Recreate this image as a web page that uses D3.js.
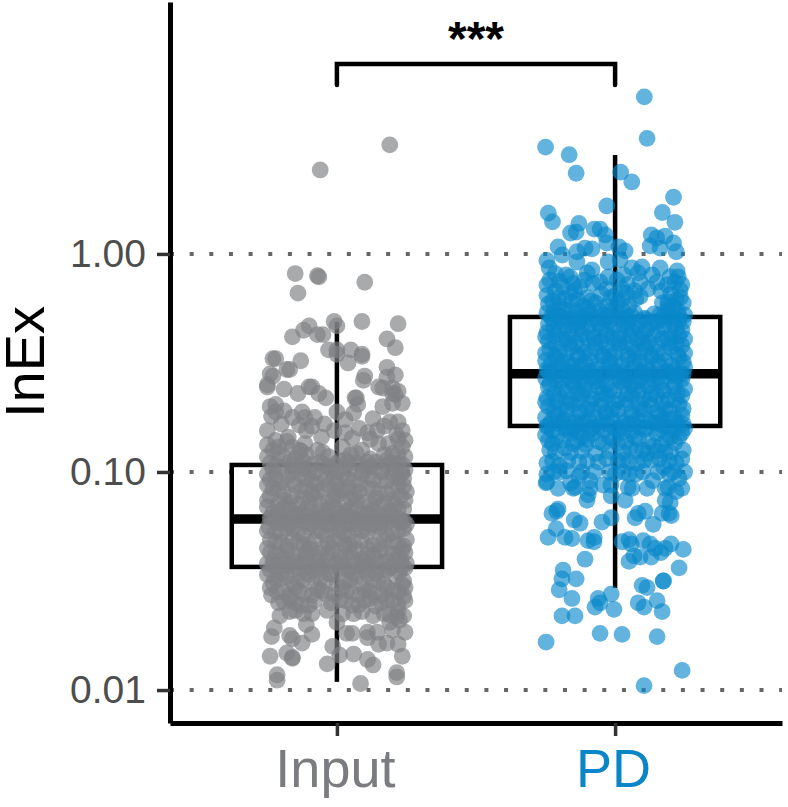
<!DOCTYPE html>
<html>
<head>
<meta charset="utf-8">
<script src="https://cdn.jsdelivr.net/npm/d3@7/dist/d3.min.js"></script>
<style>
  html, body { margin: 0; padding: 0; background: #fff; }
  svg { display: block; font-family: "Liberation Sans", Arial, sans-serif; }
</style>
</head>
<body>
<svg id="chart" width="788" height="807"></svg>
<script>
const categories = ["Input", "PD"];
const yTicks = [0.01, 0.1, 1];

// Box summaries: lower whisker, q1, median, q3, upper whisker (InEx).
const inputBox = [0.0109, 0.0367, 0.0608, 0.1077, 0.488];
const pdBox = [0.0294, 0.1626, 0.282, 0.514, 2.84];

// Each cell: [horizontal jitter in category steps, log10(InEx)].
const inputCells = [
[.19,.50],[-.06,.385],[-.15,-.09],[-.14,-.18],[-.07,-.10],[-.065,-.105],[.10,-.13],[-.01,-.31],[0,-.33],[.09,-.31],[.22,-.32],[-.10,-.33],[-.12,-.35],[-.16,-.38],[-.07,-.37],[-.05,-.37],[.18,-.39],[.21,-.43],[-.03,-.44],[0,-.44],[0,-.46],[.05,-.44],[.09,-.46],[.09,-.47],[.04,-.50],[-.23,-.48],[-.22,-.48],[-.13,-.49],[-.17,-.53],[-.18,-.53],[-.24,-.55],[-.23,-.56],[.18,-.52],[.10,-.56],[.21,-.555],[.18,-.565],[-.25,-.61],[-.19,-.62],[-.10,-.61],[-.09,-.61],[-.14,-.64],[-.065,-.64],[.15,-.61],[.165,-.615],[.22,-.63],[.20,-.64],[.07,-.66],[-.04,-.66],
[-.25,-.60],[-.24,-.70],[-.22,-.69],[-.22,-.725],[-.16,-.75],[-.125,-.725],[-.08,-.75],[0,-.725],[.065,-.66],[.075,-.69],[.06,-.73],[.03,-.76],[.095,-.58],[.2,-.615],[.21,-.645],[.235,-.685],[.165,-.70],[.2,-.685],[.19,-.77],[.22,-.77],[.235,-.81],[.145,-.81],[.11,-.82],[-.25,-.81],[-.175,-.84],[-.115,-.75],[-.11,-.81],[-.22,-.855],[.245,-.855],[.055,-.845],[-.25,-.875],[-.25,-.93],[-.21,-.885],[-.16,-.885],[-.115,-.87],[-.055,-.84],[-.01,-.81],[.02,-.885],[.09,-.90],[.15,-.87],[.2,-.915],[.245,-.93],[.235,-.885],
[-.19,-.93],[-.15,-.94],[-.11,-.92],[-.07,-.90],[-.03,-.93],[.01,-.95],[.05,-.92],[.12,-.94],[.17,-.92],
[-.24,-.96],[-.2,-.98],[-.14,-.97],[-.1,-.99],[-.05,-.97],[-.02,-.99],[.03,-.98],[.07,-.96],[.1,-.99],[.14,-.98],[.18,-.97],[.22,-.96],[.245,-.99],
[-.25,-1.01],[-.22,-1.03],[-.18,-1.02],[-.13,-1.01],[-.09,-1.04],[-.06,-1.01],[-.01,-1.03],[.02,-1.01],[.06,-1.04],[.11,-1.02],[.16,-1.04],[.2,-1.01],[.24,-1.03],
[-.25,-1.06],[-.21,-1.08],[-.15,-1.06],[-.11,-1.07],[-.07,-1.09],[-.03,-1.06],[.01,-1.08],[.04,-1.07],[.08,-1.09],[.13,-1.08],[.18,-1.1],[.22,-1.06],[.25,-1.09],
[-.24,-1.11],[-.19,-1.13],[-.16,-1.11],[-.12,-1.12],[-.08,-1.12],[-.03,-1.14],[0,-1.11],[.05,-1.12],[.1,-1.14],[.14,-1.12],[.2,-1.13],[.23,-1.11],
[-.25,-1.16],[-.21,-1.18],[-.17,-1.17],[-.13,-1.19],[-.1,-1.16],[-.05,-1.18],[-.01,-1.16],[.03,-1.18],[.07,-1.16],[.11,-1.19],[.15,-1.16],[.19,-1.18],[.24,-1.17],
[-.24,-1.21],[-.19,-1.23],[-.14,-1.22],[-.09,-1.24],[-.06,-1.21],[-.02,-1.24],[.02,-1.22],[.07,-1.24],[.1,-1.21],[.16,-1.23],[.21,-1.22],[.25,-1.24],
[-.25,-1.27],[-.2,-1.28],[-.16,-1.26],[-.12,-1.29],[-.07,-1.27],[-.04,-1.29],[.01,-1.27],[.04,-1.29],[.09,-1.27],[.13,-1.26],[.18,-1.29],[.22,-1.27],
[-.22,-1.32],[-.18,-1.34],[-.14,-1.32],[-.1,-1.33],[-.05,-1.35],[-.01,-1.32],[.03,-1.34],[.06,-1.32],[.11,-1.35],[.15,-1.33],[.2,-1.32],[.24,-1.34],
[-.24,-1.37],[-.2,-1.39],[-.16,-1.38],[-.11,-1.37],[-.08,-1.39],[-.03,-1.37],[.01,-1.39],[.05,-1.37],[.09,-1.4],[.13,-1.38],[.18,-1.37],[.22,-1.39],[.245,-1.37],
[-.25,-1.42],[-.21,-1.44],[-.17,-1.43],[-.13,-1.42],[-.09,-1.45],[-.05,-1.43],[0,-1.42],[.04,-1.45],[.08,-1.43],[.12,-1.42],[.16,-1.45],[.2,-1.43],[.25,-1.42],
[-.25,-1.47],[-.22,-1.49],[-.18,-1.48],[-.14,-1.5],[-.1,-1.47],[-.06,-1.49],[-.02,-1.47],[.03,-1.5],[.07,-1.48],[.11,-1.47],[.15,-1.5],[.21,-1.48],[.24,-1.5],
[-.24,-1.53],[-.19,-1.55],[-.15,-1.53],[-.12,-1.56],[-.07,-1.54],[-.04,-1.56],[.02,-1.53],[.05,-1.55],[.1,-1.54],[.13,-1.56],[.18,-1.53],[.22,-1.55],[.245,-1.53],
[-.21,-1.6],[-.17,-1.58],[-.13,-1.61],[-.08,-1.59],[-.02,-1.6],[.03,-1.59],[.08,-1.61],[.12,-1.58],[.16,-1.6],[.2,-1.59],
[-.12,-1.65],[-.17,-1.64],[.02,-1.65],[.09,-1.64],[.13,-1.66],[.17,-1.65],[.22,-1.64],[.24,-1.66],
[-.215,-1.955],[-.215,-1.93],[.085,-1.97],[.215,-1.94],[.215,-1.92],[-.035,-1.88],[-.24,-1.845],[-.18,-1.83],[-.16,-1.85],[-.16,-1.855],[.01,-1.84],[-.015,-1.80],[.06,-1.835],[.11,-1.86],[.13,-1.885],[.235,-1.845],[.22,-1.79],[.15,-1.79],[.18,-1.785],[-.235,-1.755],[-.225,-1.715],[-.17,-1.75],[-.16,-1.765],[-.125,-1.785],[-.09,-1.745],[-.205,-1.66],[-.11,-1.70],[0,-1.69],[.035,-1.74],[.055,-1.74],[.11,-1.735],[.11,-1.76],[.145,-1.735],[.19,-1.69],[.225,-1.68],[.245,-1.735],[.2,-1.725],[.245,-1.59],[-.035,-1.635],[-.15,-1.635],[-.09,-1.65],[-.235,-1.565],[.06,-1.65]
];

// Further Input cells through the crowded middle of the distribution.
const inputCellsCore = [
[-.21,-.915],[-.17,-.955],[-.13,-.905],[-.09,-.965],[-.05,-.91],[.03,-.945],[.07,-.915],[.11,-.955],[.18,-.945],[.22,-.92],
[-.23,-.99],[-.16,-1.0],[-.12,-.985],[-.08,-1.005],[-.03,-.975],[.0,-1.0],[.05,-.99],[.09,-1.01],[.12,-.975],[.16,-1.0],[.2,-.985],[.235,-1.005],
[-.24,-1.035],[-.2,-1.05],[-.16,-1.04],[-.11,-1.03],[-.075,-1.055],[-.04,-1.035],[.0,-1.05],[.04,-1.03],[.08,-1.055],[.13,-1.035],[.18,-1.04],[.22,-1.03],
[-.23,-1.075],[-.19,-1.095],[-.13,-1.085],[-.09,-1.1],[-.05,-1.08],[-.01,-1.1],[.02,-1.085],[.06,-1.105],[.11,-1.075],[.15,-1.1],[.2,-1.08],[.24,-1.065],
[-.25,-1.13],[-.21,-1.145],[-.17,-1.14],[-.14,-1.15],[-.1,-1.135],[-.06,-1.15],[-.015,-1.13],[.03,-1.145],[.07,-1.13],[.12,-1.15],[.17,-1.14],[.21,-1.15],[.245,-1.13],
[-.23,-1.185],[-.19,-1.165],[-.15,-1.195],[-.115,-1.175],[-.07,-1.195],[-.03,-1.17],[.01,-1.19],[.05,-1.17],[.09,-1.195],[.13,-1.175],[.17,-1.195],[.22,-1.17],
[-.22,-1.215],[-.17,-1.24],[-.12,-1.225],[-.08,-1.215],[-.04,-1.235],[0,-1.215],[.04,-1.24],[.085,-1.22],[.12,-1.24],[.18,-1.215],[.23,-1.23],
[-.245,-1.25],[-.22,-1.275],[-.18,-1.26],[-.14,-1.28],[-.1,-1.255],[-.055,-1.275],[-.02,-1.255],[.025,-1.28],[.07,-1.26],[.11,-1.28],[.155,-1.255],[.2,-1.28],[.24,-1.26],
[-.24,-1.31],[-.2,-1.325],[-.16,-1.31],[-.12,-1.335],[-.08,-1.315],[-.03,-1.33],[.01,-1.31],[.045,-1.335],[.09,-1.315],[.13,-1.335],[.17,-1.31],[.22,-1.33],[.25,-1.31],
[-.25,-1.35],[-.22,-1.375],[-.18,-1.36],[-.135,-1.38],[-.095,-1.355],[-.06,-1.375],[-.015,-1.355],[.03,-1.38],[.07,-1.355],[.11,-1.38],[.155,-1.36],[.2,-1.375],[.235,-1.355],
[-.23,-1.41],[-.19,-1.4],[-.15,-1.415],[-.11,-1.395],[-.07,-1.415],[-.03,-1.4],[.02,-1.415],[.06,-1.4],[.1,-1.415],[.14,-1.4],[.18,-1.41],[.23,-1.4],
[-.24,-1.45],[-.2,-1.465],[-.155,-1.45],[-.115,-1.465],[-.07,-1.445],[-.03,-1.465],[.015,-1.445],[.055,-1.465],[.1,-1.45],[.14,-1.465],[.18,-1.45],[.225,-1.46],[.245,-1.44],
[-.23,-1.51],[-.2,-1.49],[-.16,-1.515],[-.12,-1.495],[-.08,-1.515],[-.04,-1.5],[0,-1.515],[.05,-1.495],[.09,-1.515],[.13,-1.495],[.17,-1.515],[.235,-1.515],
[-.215,-1.55],[-.17,-1.565],[-.135,-1.545],[-.09,-1.565],[-.055,-1.545],[-.01,-1.565],[.035,-1.545],[.08,-1.565],[.115,-1.545],[.16,-1.565],[.2,-1.545],[.24,-1.57],
[-.19,-1.595],[-.15,-1.6],[-.1,-1.61],[.01,-1.585],[.055,-1.61],[.1,-1.59],[.14,-1.615],[.18,-1.585],[.22,-1.61],[.215,-1.665],[.19,-1.655],
[-.235,-1.21],[-.205,-1.2],[-.175,-1.215],[-.145,-1.2],[-.105,-1.205],[-.065,-1.225],[-.03,-1.205],[.005,-1.235],[.035,-1.2],[.055,-1.21],[.1,-1.23],[.13,-1.205],[.15,-1.22],[.195,-1.205],[.225,-1.215],
[-.215,-1.235],[-.16,-1.23],[-.105,-1.235],[-.05,-1.22],[.02,-1.205],[.06,-1.225],[.14,-1.24],[.175,-1.235],[.24,-1.225],
[-.22,-.97],[-.16,-.965],[-.12,-.95],[-.06,-.955],[-.01,-.965],[.04,-.955],[.09,-.97],[.14,-.955],[.195,-.96],[.235,-.965],
[-.23,-1.43],[-.19,-1.425],[-.14,-1.44],[-.1,-1.43],[-.06,-1.44],[-.02,-1.43],[.025,-1.435],[.065,-1.425],[.11,-1.44],[.15,-1.425],[.19,-1.44],[.235,-1.43],
[-.235,-.745],[-.2,-.78],[-.19,-.72],[-.135,-.785],[-.09,-.79],[-.045,-.78],[.03,-.82],[.08,-.8],[.13,-.755],[.17,-.79],[.215,-.83],[-.23,-.9],[-.18,-.86],[-.135,-.9],[.12,-.85],[.185,-.87],[.22,-.85]
];

const pdCells = [
[.105,.72],[.115,.53],[-.25,.49],[-.165,.455],[-.14,.37],[.02,.375],[.06,.33],[.21,.26],[-.03,.22],[.17,.19],[.215,.145],[-.24,.187],[-.225,.147],[-.13,.14],[-.14,.10],[-.16,.096],[-.075,.114],[-.054,.114],[-.035,.087],[-.03,.05],[.13,.087],[.15,.073],[.18,.082],[.126,.037],[.21,.05],[.22,.01],[-.205,.032],[-.19,-.005],[-.108,.027],[-.083,.023],[-.137,.01],[.014,.032],[.036,.014],[.162,.027],
[-.245,-.03],[-.237,-.064],[-.137,-.037],[-.176,-.096],[-.162,-.105],[-.1,-.087],[-.083,-.073],[-.025,-.037],[.018,-.027],[.061,-.064],[.097,-.06],[.083,-.087],[.133,-.096],[.162,-.064],[.223,-.078],[.198,-.105],[.227,-.105],[-.245,-.142],[.119,-.16],[.187,-.142],[.007,-.12],[-.054,-.128],[-.126,-.151],[-.187,-.151],[.234,-.165],
[-.245,-.19],[-.205,-.2],[-.16,-.18],[-.1,-.2],[-.05,-.185],[0,-.19],[.04,-.18],[.09,-.195],[.2,-.185],[.235,-.2],
[-.24,-.23],[-.2,-.24],[-.155,-.22],[-.115,-.24],[-.07,-.225],[-.03,-.24],[.01,-.22],[.05,-.24],[.17,-.225],[.21,-.24],[.245,-.225],
[-.245,-.27],[-.21,-.28],[-.17,-.26],[-.13,-.285],[-.09,-.27],[-.04,-.28],[0,-.26],[.04,-.285],[.07,-.27],[.14,-.275],[.19,-.26],[.23,-.285],
[-.24,-.32],[-.19,-.31],[-.15,-.325],[-.11,-.3],[-.06,-.32],[-.02,-.31],[.03,-.325],[.09,-.31],[.13,-.32],[.17,-.305],[.21,-.325],[.245,-.31],
[-.245,-.36],[-.2,-.35],[-.16,-.37],[-.12,-.345],[-.08,-.365],[-.03,-.35],[.02,-.37],[.06,-.35],[.1,-.365],[.15,-.35],[.2,-.37],[.24,-.35],
[-.24,-.4],[-.19,-.39],[-.14,-.41],[-.1,-.385],[-.05,-.4],[-.01,-.385],[.04,-.41],[.08,-.39],[.12,-.405],[.17,-.39],[.22,-.41],[.25,-.39],
[-.235,-.44],[-.2,-.45],[-.16,-.43],[-.11,-.45],[-.07,-.435],[-.02,-.45],[.02,-.43],[.07,-.45],[.11,-.435],[.15,-.45],[.2,-.43],[.25,-.455],
[-.25,-.49],[-.21,-.48],[-.17,-.5],[-.13,-.475],[-.09,-.49],[-.04,-.47],[0,-.5],[.05,-.48],[.09,-.495],[.13,-.475],[.18,-.49],[.23,-.475],
[-.245,-.53],[-.2,-.52],[-.15,-.54],[-.12,-.515],[-.07,-.53],[-.02,-.515],[.03,-.54],[.07,-.52],[.12,-.535],[.16,-.515],[.21,-.535],[.25,-.52],
[-.25,-.57],[-.21,-.58],[-.17,-.56],[-.13,-.58],[-.09,-.565],[-.05,-.58],[0,-.56],[.04,-.58],[.1,-.565],[.14,-.58],[.19,-.56],[.24,-.575],
[-.24,-.61],[-.19,-.62],[-.15,-.6],[-.11,-.625],[-.06,-.61],[-.02,-.625],[.03,-.6],[.07,-.62],[.12,-.605],[.17,-.625],[.21,-.61],[.25,-.62],
[-.245,-.66],[-.2,-.65],[-.16,-.67],[-.12,-.645],[-.08,-.665],[-.03,-.65],[.01,-.67],[.06,-.65],[.1,-.665],[.15,-.65],[.19,-.67],[.24,-.65],
[-.24,-.7],[-.2,-.71],[-.15,-.69],[-.1,-.71],[-.05,-.695],[-.01,-.71],[.04,-.69],[.09,-.71],[.13,-.695],[.18,-.71],[.23,-.69],
[-.25,-.75],[-.21,-.74],[-.17,-.76],[-.13,-.735],[-.07,-.75],[-.03,-.735],[.02,-.76],[.06,-.74],[.11,-.755],[.16,-.735],[.2,-.755],[.24,-.74],
[-.245,-.79],[-.2,-.78],[-.15,-.8],[-.11,-.775],[-.06,-.79],[0,-.8],[.05,-.78],[.09,-.795],[.14,-.775],[.18,-.79],[.225,-.775],
[-.25,-.83],[-.21,-.84],[-.16,-.82],[-.12,-.84],[-.08,-.825],[-.02,-.84],[.03,-.82],[.07,-.84],[.15,-.825],[.2,-.84],[.24,-.82],
[-.225,-.87],[-.235,-.9],[-.18,-.89],[-.15,-.87],[-.105,-.875],[-.1,-.95],[-.03,-.94],[-.043,-.87],[.01,-.87],[.027,-.945],[.055,-.89],[.1,-.9],[.13,-.945],[.18,-.91],[.23,-.84],[.166,-.875],[.138,-.88],[-.2,-.97],[-.245,-.96],[.16,-.94],[.24,-.94],[.175,-.98],[.08,-.96],[.22,-.96],
[-.245,-1.01],[-.2,-1.0],[-.16,-1.05],[-.09,-1.04],[-.043,-1.06],[.0,-1.01],[.05,-1.01],[.1,-1.0],[.23,-1.03],[.25,-1.0],[.195,-1.01],[.135,-1.04],[-.12,-1.0],
[-.245,-1.045],[.24,-1.075],[-.205,-1.075],[-.15,-1.075],[-.09,-1.075],[-.015,-1.06],[.115,-1.075],[.18,-1.075],
[-.248,-1.05],[-.144,-1.07],[-.097,-1.105],[-.014,-1.11],[.047,-1.07],[.061,-1.075],[.191,-1.07],[.219,-1.09],[.036,-1.13],[-.101,-1.13],
[.18,-1.13],[.198,-1.14],[.194,-1.19],[.202,-1.2],[-.227,-1.19],[-.205,-1.17],[-.21,-1.18],[-.047,-1.23],[-.014,-1.21],[.072,-1.21],[.083,-1.19],[.108,-1.18],[.169,-1.19],[-.147,-1.22],[-.126,-1.235],[.137,-1.24],
[-.241,-1.3],[-.212,-1.26],[-.155,-1.305],[-.097,-1.315],[-.18,-1.3],[-.075,-1.3],[-.076,-1.32],[.058,-1.33],[.101,-1.315],[.18,-1.35],[.201,-1.33],[.05,-1.31],[.025,-1.32],[.126,-1.33],
[.09,-1.39],[.144,-1.35],[.165,-1.37],[.245,-1.355],[.068,-1.385],[.05,-1.41],[.13,-1.39],[.23,-1.44],[-.108,-1.4],[-.191,-1.49],[-.14,-1.49],[-.187,-1.45],[.173,-1.5],
[-.072,-1.62],[-.061,-1.58],[-.054,-1.6],[-.014,-1.56],[-.004,-1.63],[.083,-1.6],[.104,-1.62],[.151,-1.59],[.169,-1.64],[.174,-1.5],[.097,-1.52],[.115,-1.53],[-.201,-1.54],[-.155,-1.58],[-.191,-1.66],[-.144,-1.66],
[-.248,-1.78],[-.054,-1.74],[.025,-1.745],[.151,-1.755],[.241,-1.91],[.104,-1.98]
];

// Further PD cells through the crowded middle of the distribution.
const pdCellsCore = [
[-.225,-.215],[-.18,-.205],[-.135,-.21],[-.085,-.215],[-.015,-.2],[.025,-.21],[.075,-.205],[.22,-.21],[.19,-.22],
[-.22,-.26],[-.185,-.255],[-.14,-.26],[-.1,-.25],[-.055,-.26],[-.015,-.26],[.025,-.25],[.19,-.24],[.225,-.26],[.16,-.28],
[-.225,-.3],[-.17,-.3],[-.13,-.31],[-.08,-.3],[-.04,-.3],[.01,-.295],[.05,-.31],[.11,-.3],[.15,-.31],[.19,-.295],[.23,-.305],
[-.22,-.34],[-.18,-.335],[-.135,-.345],[-.095,-.33],[-.05,-.345],[-.005,-.335],[.045,-.345],[.08,-.33],[.115,-.345],[.175,-.335],[.22,-.345],
[-.25,-.38],[-.215,-.375],[-.175,-.39],[-.12,-.37],[-.075,-.385],[-.03,-.375],[.01,-.39],[.055,-.375],[.095,-.385],[.14,-.375],[.19,-.39],[.23,-.375],
[-.215,-.415],[-.165,-.41],[-.12,-.42],[-.07,-.41],[-.03,-.42],[.015,-.41],[.06,-.425],[.1,-.41],[.145,-.42],[.195,-.41],[.24,-.42],
[-.25,-.455],[-.215,-.465],[-.175,-.455],[-.135,-.465],[-.09,-.455],[-.045,-.465],[0,-.455],[.045,-.465],[.09,-.45],[.13,-.465],[.175,-.455],[.225,-.46],
[-.23,-.505],[-.19,-.495],[-.15,-.51],[-.11,-.5],[-.06,-.51],[-.02,-.49],[.025,-.505],[.07,-.49],[.11,-.51],[.155,-.495],[.205,-.51],[.245,-.495],
[-.225,-.545],[-.175,-.535],[-.135,-.55],[-.095,-.54],[-.05,-.55],[-.005,-.535],[.05,-.55],[.095,-.54],[.14,-.55],[.185,-.54],[.235,-.55],
[-.235,-.595],[-.19,-.58],[-.15,-.59],[-.11,-.6],[-.07,-.585],[-.03,-.6],[.02,-.585],[.06,-.6],[.085,-.585],[.12,-.6],[.165,-.585],[.215,-.595],
[-.22,-.64],[-.175,-.63],[-.135,-.64],[-.09,-.63],[-.045,-.64],[-.005,-.63],[.045,-.64],[.085,-.63],[.13,-.64],[.175,-.63],[.225,-.64],
[-.25,-.68],[-.21,-.675],[-.175,-.685],[-.13,-.67],[-.09,-.685],[-.05,-.67],[0,-.685],[.04,-.67],[.085,-.685],[.125,-.67],[.17,-.685],[.215,-.67],
[-.22,-.725],[-.175,-.715],[-.125,-.725],[-.08,-.715],[-.035,-.725],[.01,-.715],[.06,-.725],[.105,-.715],[.15,-.725],[.195,-.715],[.245,-.71],
[-.23,-.77],[-.185,-.76],[-.14,-.77],[-.095,-.76],[-.045,-.77],[-.01,-.76],[.035,-.77],[.08,-.76],[.125,-.77],[.17,-.76],[.215,-.755],
[-.225,-.81],[-.175,-.805],[-.135,-.815],[-.09,-.805],[-.04,-.81],[.015,-.805],[.06,-.815],[.105,-.805],[.16,-.805],[.205,-.815],[.25,-.8],
[-.24,-.855],[-.19,-.855],[-.135,-.855],[-.1,-.85],[-.06,-.86],[-.005,-.85],[.04,-.86],[.085,-.85],[.12,-.86],[.185,-.85],[.215,-.865],
[-.215,-.91],[-.16,-.91],[-.12,-.905],[-.07,-.915],[-.02,-.905],[.03,-.91],[.075,-.905],[.115,-.915],[.15,-.905],[.2,-.91],[.245,-.9],
[-.225,-.95],[-.17,-.95],[-.13,-.955],[-.06,-.955],[.01,-.95],[.05,-.955],[.105,-.945],[.195,-.95],
[-.22,-1.0],[-.175,-.995],[-.13,-1.02],[-.075,-1.0],[-.02,-1.0],[.03,-1.0],[.075,-1.01],[.155,-1.0],[.21,-1.0],
[-.24,-.54],[-.205,-.555],[-.165,-.545],[-.145,-.56],[-.105,-.55],[-.075,-.565],[-.03,-.55],[.015,-.565],[.03,-.55],[.075,-.56],[.11,-.55],[.155,-.565],[.2,-.545],[.22,-.56],[.245,-.55],
[-.24,-.79],[-.19,-.775],[-.165,-.795],[-.12,-.78],[-.08,-.795],[-.03,-.78],[.02,-.795],[.07,-.78],[.115,-.795],[.16,-.78],[.2,-.795],[.245,-.78],
[-.23,-.29],[-.195,-.285],[-.15,-.295],[-.11,-.28],[-.065,-.295],[-.02,-.285],[.025,-.295],[.06,-.285],[.105,-.295],[.175,-.285],[.215,-.295],[.25,-.28],
[-.235,-.12],[-.215,-.09],[-.2,-.125],[-.15,-.135],[-.11,-.12],[-.08,-.135],[-.025,-.105],[.03,-.095],[.045,-.14],[.09,-.13],[.15,-.13],[.215,-.13],[.24,-.14],[.025,-.16],[-.03,-.16],[.07,-.17],[.165,-.17],[-.145,-.17],[-.215,-.17]
];

const svg = d3.select("#chart");

const x = d3.scalePoint().domain(categories).range([170, 782]).padding(0.6);
const y = d3.scaleLog().domain([0.00706, 14.3]).range([723, 2]);
const step = x.step();
const boxHalf = 0.378 * step;

// Dotted reference lines at each decade
svg.append("g").selectAll("line").data(yTicks).join("line")
  .attr("x1", 170).attr("x2", 782)
  .attr("y1", d => y(d)).attr("y2", d => y(d))
  .attr("stroke", "#666").attr("stroke-width", 4)
  .attr("stroke-dasharray", "4 15.65");

// Box-and-whisker for each group
const boxes = [
  { name: "Input", s: inputBox },
  { name: "PD", s: pdBox }
];
const boxG = svg.append("g").attr("stroke", "#000").attr("fill", "none");
boxes.forEach(b => {
  const cx = x(b.name), [lo, q1, med, q3, hi] = b.s;
  boxG.append("line").attr("x1", cx).attr("x2", cx).attr("y1", y(hi)).attr("y2", y(q3)).attr("stroke-width", 4.5);
  boxG.append("line").attr("x1", cx).attr("x2", cx).attr("y1", y(q1)).attr("y2", y(lo)).attr("stroke-width", 4.5);
  boxG.append("rect").attr("x", cx - boxHalf).attr("width", 2 * boxHalf)
    .attr("y", y(q3)).attr("height", y(q1) - y(q3)).attr("stroke-width", 4.5);
  boxG.append("line").attr("x1", cx - boxHalf).attr("x2", cx + boxHalf)
    .attr("y1", y(med)).attr("y2", y(med)).attr("stroke-width", 9.5);
});

// Jittered observations
const groups = [
  { name: "Input", cells: inputCells.concat(inputCellsCore), fill: "#808285", opacity: 0.68 },
  { name: "PD", cells: pdCells.concat(pdCellsCore), fill: "#0a88ca", opacity: 0.64 }
];
groups.forEach(g => {
  svg.append("g").selectAll("circle").data(g.cells).join("circle")
    .attr("cx", d => x(g.name) + d[0] * step)
    .attr("cy", d => y(Math.pow(10, d[1])))
    .attr("r", 8.4)
    .attr("fill", g.fill)
    .attr("fill-opacity", g.opacity);
});

// Axes
const yAxis = d3.axisLeft(y).tickValues(yTicks).tickFormat(d3.format(".2f")).tickSize(13).tickSizeOuter(0).tickPadding(11);
const yG = svg.append("g").attr("transform", "translate(170,0)").call(yAxis);
const xAxis = d3.axisBottom(x).tickSize(13).tickSizeOuter(0).tickPadding(13);
const xG = svg.append("g").attr("transform", "translate(0,723)").call(xAxis);

[yG, xG].forEach(g => {
  g.select(".domain").attr("stroke", "#000").attr("stroke-width", 5);
  g.selectAll(".tick line").attr("stroke", "#333").attr("stroke-width", 3.5);
});
yG.selectAll(".tick text").attr("font-size", 39).attr("fill", "#4d4d4d").attr("font-family", "Liberation Sans");
xG.selectAll(".tick text").attr("font-size", 54).attr("font-family", "Liberation Sans").attr("dx", -2)
  .attr("fill", d => d === "PD" ? "#0a86c8" : "#7a7c80");

// Y axis title
svg.append("text")
  .attr("transform", "translate(44,362) rotate(-90)")
  .attr("text-anchor", "middle")
  .attr("font-size", 56)
  .attr("fill", "#000")
  .text("InEx");

// Significance bracket between the groups
const bracket = d3.path();
const bracketBase = y(1.0) - 169, bracketTop = y(1.0) - 190;
bracket.moveTo(x("Input"), bracketBase);
bracket.lineTo(x("Input"), bracketTop);
bracket.lineTo(x("PD"), bracketTop);
bracket.lineTo(x("PD"), bracketBase);
svg.append("path").attr("d", bracket.toString())
  .attr("fill", "none").attr("stroke", "#000").attr("stroke-width", 4.5)
  .attr("stroke-linecap", "round").attr("stroke-linejoin", "miter");

svg.append("text")
  .attr("x", (x("Input") + x("PD")) / 2).attr("y", 55)
  .attr("text-anchor", "middle")
  .attr("font-size", 48)
  .attr("font-weight", "bold")
  .attr("fill", "#000")
  .text("***");
</script>
</body>
</html>
